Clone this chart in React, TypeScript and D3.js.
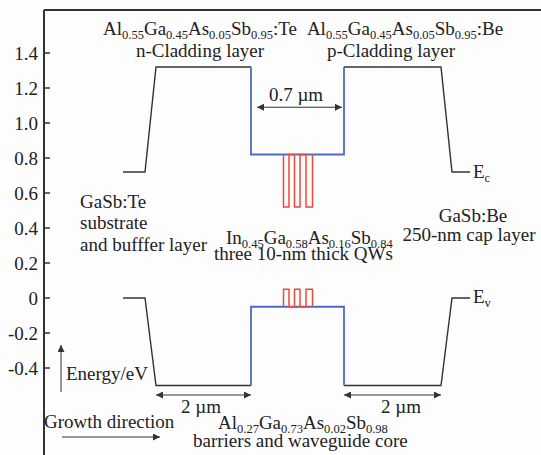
import React from 'react';
import * as d3 from 'd3';

// energy axis
const yTicks = [1.4, 1.2, 1.0, 0.8, 0.6, 0.4, 0.2, 0, -0.2, -0.4];
const yTickLabels = ['1.4', '1.2', '1.0', '0.8', '0.6', '0.4', '0.2', '0', '-0.2', '-0.4'];

// band edges: [position (arb. units), energy eV]
const ecLeft = [[79, 0.72], [101, 0.72], [112, 1.32], [207, 1.32]];
const ecCore = [[207, 1.32], [207, 0.82], [300, 0.82], [300, 1.32]];
const ecRight = [[300, 1.32], [397, 1.32], [408, 0.72], [426, 0.72]];
const evLeft = [[79, 0], [101, 0], [112, -0.5], [207, -0.5]];
const evCore = [[207, -0.5], [207, -0.05], [300, -0.05], [300, -0.5]];
const evRight = [[300, -0.5], [397, -0.5], [408, 0], [426, 0]];

// quantum wells
const qwEdges = [[239.5, 245], [250.5, 256], [262, 268.5]];
const ecCoreLevel = 0.82;
const ecWellBottom = 0.52;
const evCoreLevel = -0.05;
const evWellTop = 0.05;

// dimension arrows [from, to, energy]
const coreArrow = [213, 298, 1.09];
const cladArrows = [[112, 207], [300, 397]];

const W = 541;
const H = 455;
const font = "'Liberation Serif', 'Times New Roman', serif";

const x = d3.scaleLinear().domain([0, 497]).range([44, 541]);
const y = d3.scaleLinear().domain([0, 1.4]).range([298, 53]);
const line = d3.line<number[]>().x(d => x(d[0])).y(d => y(d[1]));

function wellPath(base: number, tip: number) {
  const pts: number[][] = [];
  qwEdges.forEach(([a, b]) => {
    pts.push([a, base], [a, tip], [b, tip], [b, base]);
  });
  return line(pts) || '';
}

const SUB = 12.5;
const SHIFT = 4;

function Formula({ parts, suffix, ...rest }: any) {
  return (
    <text {...rest}>
      {parts.map(([el, sub]: string[], i: number) => (
        <React.Fragment key={i}>
          <tspan dy={i > 0 ? -SHIFT : 0}>{el}</tspan>
          <tspan fontSize={SUB} dy={SHIFT}>{sub}</tspan>
        </React.Fragment>
      ))}
      {suffix ? <tspan dy={-SHIFT}>{suffix}</tspan> : null}
    </text>
  );
}

const nClad = [['Al', '0.55'], ['Ga', '0.45'], ['As', '0.05'], ['Sb', '0.95']];
const qwComp = [['In', '0.45'], ['Ga', '0.58'], ['As', '0.16'], ['Sb', '0.84']];
const coreComp = [['Al', '0.27'], ['Ga', '0.73'], ['As', '0.02'], ['Sb', '0.98']];

export default function App() {
  const black = '#333';
  const blue = '#4a6cc0';
  const red = '#ec4a3c';
  return (
    <svg width={W} height={H}
      style={{ position: 'absolute', left: 0, top: 0, background: '#fdfdfd', fontFamily: font, fontSize: 19 }}
      fill="#222">
      <defs>
        <marker id="ah" viewBox="0 0 10 10" refX="10" refY="5" markerWidth="9" markerHeight="7"
          markerUnits="userSpaceOnUse" orient="auto-start-reverse">
          <path d="M0,0 L10,5 L0,10 z" fill="#333" />
        </marker>
      </defs>
      {/* frame */}
      <line x1={44} x2={W} y1={10} y2={10} stroke="#333" strokeWidth={2} />
      <line x1={44} x2={44} y1={10} y2={H} stroke="#333" strokeWidth={2} />
      {yTicks.map((t, i) => (
        <g key={i}>
          <line x1={44} x2={50} y1={y(t)} y2={y(t)} stroke="#333" strokeWidth={1.5} />
          <text x={38} y={y(t)} dy="0.35em" textAnchor="end">{yTickLabels[i]}</text>
        </g>
      ))}

      {/* band edges */}
      {[ecLeft, ecRight, evLeft, evRight].map((d, i) => (
        <path key={i} d={line(d as any) || ''} fill="none" stroke={black} strokeWidth={1.4} />
      ))}
      {[ecCore, evCore].map((d, i) => (
        <path key={i} d={line(d as any) || ''} fill="none" stroke={blue} strokeWidth={1.8} />
      ))}
      <path d={wellPath(ecCoreLevel, ecWellBottom)} fill="none" stroke={red} strokeWidth={1.5} />
      <path d={wellPath(evCoreLevel, evWellTop)} fill="none" stroke={red} strokeWidth={1.5} />

      {/* arrows */}
      <line x1={x(coreArrow[0])} x2={x(coreArrow[1])} y1={y(coreArrow[2])} y2={y(coreArrow[2])}
        stroke="#333" strokeWidth={1} markerStart="url(#ah)" markerEnd="url(#ah)" />
      {cladArrows.map(([a, b], i) => (
        <line key={i} x1={x(a)} x2={x(b)} y1={395} y2={395} stroke="#333" strokeWidth={1}
          markerStart="url(#ah)" markerEnd="url(#ah)" />
      ))}
      <line x1={61} x2={61} y1={392} y2={345} stroke="#333" strokeWidth={1} markerEnd="url(#ah)" />
      <line x1={62} x2={160} y1={437} y2={437} stroke="#333" strokeWidth={1} markerEnd="url(#ah)" />

      {/* labels */}
      <Formula parts={nClad} suffix=":Te" x={200} y={35} textAnchor="middle" />
      <Formula parts={nClad} suffix=":Be" x={405} y={35} textAnchor="middle" />
      <text x={200} y={57} textAnchor="middle">n-Cladding layer</text>
      <text x={391} y={57} textAnchor="middle">p-Cladding layer</text>
      <text x={296} y={101} textAnchor="middle">0.7 µm</text>

      <text x={80} y={208}>GaSb:Te</text>
      <text x={80} y={229}>substrate</text>
      <text x={80} y={251}>and bufffer layer</text>

      <Formula parts={qwComp} x={226} y={244} />
      <text x={214} y={260}>three 10-nm thick QWs</text>

      <text x={473} y={222} textAnchor="middle">GaSb:Be</text>
      <text x={469} y={241} textAnchor="middle">250-nm cap layer</text>

      <text x={473} y={178}>E<tspan fontSize={SUB} dy={SHIFT}>c</tspan></text>
      <text x={473} y={303}>E<tspan fontSize={SUB} dy={SHIFT}>v</tspan></text>

      <text x={66} y={380}>Energy/eV</text>
      <text x={44} y={428}>Growth direction</text>
      <text x={201} y={413} textAnchor="middle">2 µm</text>
      <text x={401} y={413} textAnchor="middle">2 µm</text>
      <Formula parts={coreComp} x={218} y={429} />
      <text x={193} y={447}>barriers and waveguide core</text>
    </svg>
  );
}
